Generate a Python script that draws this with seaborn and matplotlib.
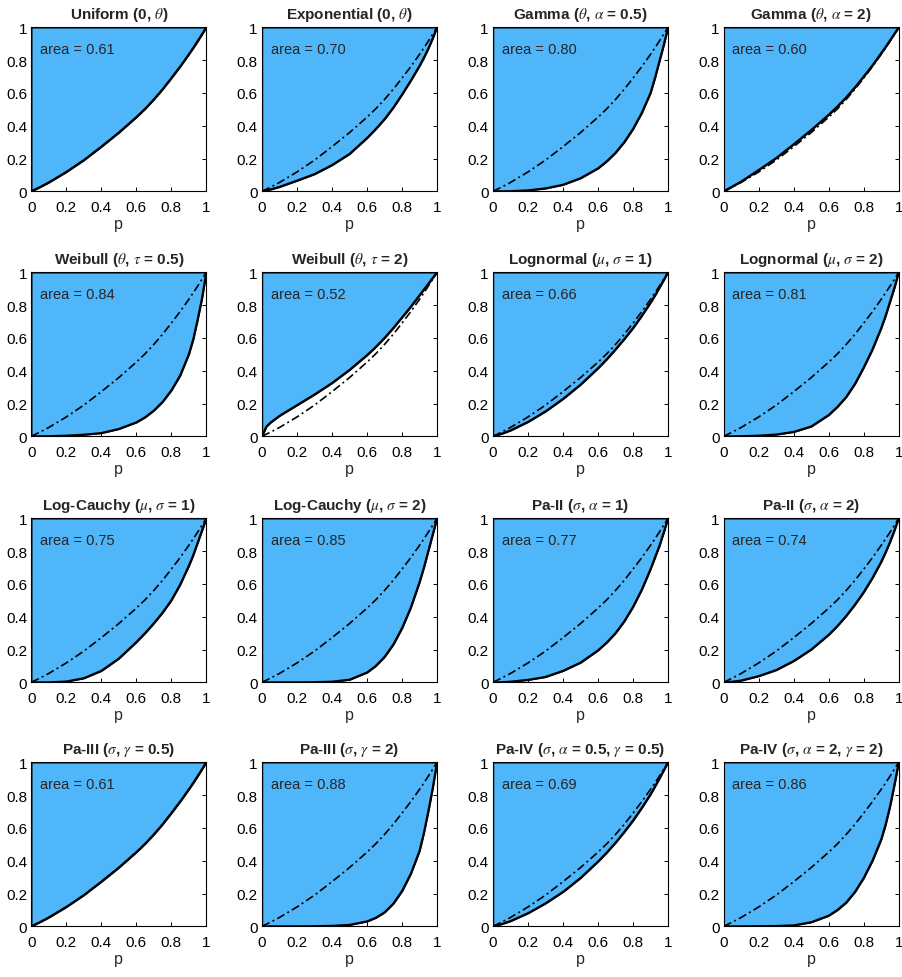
import matplotlib
matplotlib.use("Agg")
import matplotlib.pyplot as plt
from matplotlib import font_manager
import seaborn as sns

# ---- data ----
P = [0, .025, .05, .1, .2, .3, .4, .5, .6, .65, .7, .75, .8, .85, .9, .925, .95, .975, 1]

# dash-dot reference curve (uniform)
REF = [0, .013, .026, .054, .118, .19, .272, .358, .452, .503, .56, .622, .69, .76, .835, .874, .915, .957, 1]

uniform = [0, .013, .026, .054, .118, .19, .272, .358, .452, .503, .56, .622, .69, .76, .835, .874, .915, .957, 1]
expo    = [0, .006, .012, .027, .065, .105, .16, .228, .325, .38, .44, .51, .59, .675, .765, .815, .87, .932, 1]
gamma05 = [0, 0, 0, .001, .006, .018, .04, .08, .14, .183, .235, .3, .38, .478, .6, .69, .79, .89, 1]
gamma2  = [0, .015, .03, .06, .13, .203, .287, .374, .467, .518, .573, .634, .7, .768, .843, .88, .92, .96, 1]
weib05  = [0, 0, 0, .001, .004, .01, .02, .045, .085, .116, .157, .21, .28, .37, .5, .59, .71, .84, 1]
weib2   = [0, .06, .085, .125, .19, .255, .325, .405, .495, .545, .6, .66, .725, .79, .86, .895, .93, .965, 1]
logn1   = [0, .008, .016, .036, .088, .152, .228, .315, .415, .47, .53, .593, .66, .735, .815, .858, .905, .952, 1]
logn2   = [0, 0, 0, .001, .004, .011, .027, .06, .13, .18, .24, .32, .42, .53, .66, .735, .82, .905, 1]
lcau1   = [0, 0, 0, 0, .005, .025, .07, .145, .245, .3, .36, .425, .5, .595, .71, .775, .85, .925, 1]
lcau2   = [0, 0, 0, 0, 0, .001, .004, .016, .06, .1, .155, .23, .33, .455, .61, .7, .8, .9, 1]
pa2a1   = [0, 0, .001, .004, .015, .033, .07, .12, .195, .243, .3, .372, .46, .565, .69, .76, .83, .912, 1]
pa2a2   = [0, .002, .004, .011, .038, .075, .13, .2, .29, .344, .405, .474, .55, .637, .735, .793, .855, .925, 1]
pa3g05  = [0, .013, .026, .054, .118, .19, .272, .358, .452, .503, .56, .622, .69, .76, .835, .874, .915, .957, 1]
pa3g2   = [0, 0, 0, 0, 0, .001, .003, .009, .03, .052, .085, .138, .215, .32, .46, .57, .7, .84, 1]
pa4a    = [0, .007, .014, .032, .08, .14, .21, .295, .395, .45, .51, .575, .645, .722, .805, .852, .9, .95, 1]
pa4b    = [0, 0, 0, 0, .001, .002, .006, .025, .065, .1, .145, .21, .295, .4, .53, .62, .73, .86, 1]

titles = [
    r"Uniform (0, $\theta$)", r"Exponential (0, $\theta$)",
    r"Gamma ($\theta$, $\alpha$ = 0.5)", r"Gamma ($\theta$, $\alpha$ = 2)",
    r"Weibull ($\theta$, $\tau$ = 0.5)", r"Weibull ($\theta$, $\tau$ = 2)",
    r"Lognormal ($\mu$, $\sigma$ = 1)", r"Lognormal ($\mu$, $\sigma$ = 2)",
    r"Log-Cauchy ($\mu$, $\sigma$ = 1)", r"Log-Cauchy ($\mu$, $\sigma$ = 2)",
    r"Pa-II ($\sigma$, $\alpha$ = 1)", r"Pa-II ($\sigma$, $\alpha$ = 2)",
    r"Pa-III ($\sigma$, $\gamma$ = 0.5)", r"Pa-III ($\sigma$, $\gamma$ = 2)",
    r"Pa-IV ($\sigma$, $\alpha$ = 0.5, $\gamma$ = 0.5)",
    r"Pa-IV ($\sigma$, $\alpha$ = 2, $\gamma$ = 2)",
]
areas = ["0.61", "0.70", "0.80", "0.60", "0.84", "0.52", "0.66", "0.81",
         "0.75", "0.85", "0.77", "0.74", "0.61", "0.88", "0.69", "0.86"]
solids = [uniform, expo, gamma05, gamma2, weib05, weib2, logn1, logn2,
          lcau1, lcau2, pa2a1, pa2a2, pa3g05, pa3g2, pa4a, pa4b]

tick_vals = [0, 0.2, 0.4, 0.6, 0.8, 1]
tick_labels = ["0", "0.2", "0.4", "0.6", "0.8", "1"]

# ---- style ----
sns.set_style("ticks")
names = {f.name for f in font_manager.fontManager.ttflist}
fam = "Liberation Sans Narrow" if "Liberation Sans Narrow" in names else "Liberation Sans"
plt.rcParams["font.family"] = [fam, "DejaVu Sans"]
plt.rcParams["mathtext.fontset"] = "stix"

FILL = "#4FB6FA"

fig = plt.figure(figsize=(9.03, 9.78), dpi=100)
lefts = [31.3, 262.0, 493.0, 723.7]
tops = [28.3, 273.3, 519.3, 763.3]
W, H = 175.0, 164.0

for i in range(16):
    r, c = divmod(i, 4)
    ax = fig.add_axes([lefts[c] / 903, 1 - (tops[r] + H) / 978, W / 903, H / 978])
    y = solids[i]
    ax.fill_between(P, y, 1, facecolor=FILL, edgecolor="black", linewidth=1.0, zorder=1)
    sns.lineplot(x=P, y=REF, ax=ax, color="black", linewidth=1.2,
                 linestyle=(0, (5, 2, 1.2, 2)), zorder=2)
    sns.lineplot(x=P, y=y, ax=ax, color="black", linewidth=1.5, zorder=3)
    ax.set_xlim(0, 1)
    ax.set_ylim(0, 1)
    ax.set_xticks(tick_vals, tick_labels)
    ax.set_yticks(tick_vals, tick_labels)
    ax.tick_params(direction="in", top=True, right=True, length=3, width=0.7,
                   labelsize=11, colors="black", pad=3)
    ax.tick_params(axis="x", pad=6)
    for s in ax.spines.values():
        s.set_color("black")
        s.set_linewidth(0.8)
    ax.set_xlabel("p", fontsize=11.5, labelpad=2)
    ax.set_ylabel("")
    ax.set_title(titles[i], fontsize=11, fontweight="bold", pad=7)
    ax.text(0.05, 0.87, "area = " + areas[i], fontsize=10.5, va="center", ha="left",
            transform=ax.transData, zorder=4)

fig.savefig("out.png", dpi=100)
